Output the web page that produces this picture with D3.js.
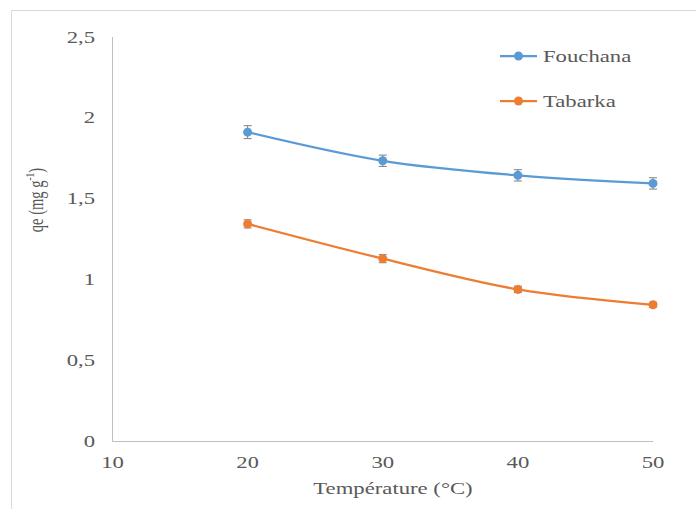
<!DOCTYPE html>
<html><head><meta charset="utf-8">
<script src="https://cdn.jsdelivr.net/npm/d3@7"></script>
<style>body{margin:0;background:#fff}svg{display:block}text{font-family:"Liberation Serif","Times New Roman",serif}</style>
</head><body>
<script>
const temperatures = [20, 30, 40, 50];
const fouchana = [1.912, 1.735, 1.645, 1.595];
const fouchanaErr = [0.04, 0.035, 0.035, 0.035];
const tabarka = [1.345, 1.13, 0.94, 0.845];
const tabarkaErr = [0.025, 0.025, 0.02, 0.015];
const seriesNames = ["Fouchana", "Tabarka"];
const seriesColors = ["#5b9bd5", "#ed7d31"];
const xTicks = [10, 20, 30, 40, 50];
const yTicks = [0, 0.5, 1, 1.5, 2, 2.5];

const W = 696, H = 509;
const SX = 1.42; // horizontal stretch of the reference text
const svg = d3.select("body").append("svg").attr("width", W).attr("height", H);
const textColor = "#595959";

function label(px, py, str, anchor, size) {
  return svg.append("text")
    .attr("transform", `translate(${px},${py}) scale(${SX},1)`)
    .attr("text-anchor", anchor).style("font-size", size + "px")
    .attr("fill", textColor).text(str);
}

// chart area border
svg.append("rect").attr("x", 11.5).attr("y", 10.5).attr("width", W).attr("height", H)
  .attr("fill", "none").attr("stroke", "#d9d9d9").attr("stroke-width", 1);

const x = d3.scaleLinear().domain([10, 50]).range([112.5, 653]);
const y = d3.scaleLinear().domain([0, 2.5]).range([441.5, 37]);

// axes lines
svg.append("line").attr("x1", x(10)).attr("x2", x(50)).attr("y1", y(0)).attr("y2", y(0))
  .attr("stroke", "#bfbfbf").attr("stroke-width", 1);
svg.append("line").attr("x1", x(10)).attr("x2", x(10)).attr("y1", y(0)).attr("y2", y(2.5))
  .attr("stroke", "#bfbfbf").attr("stroke-width", 1);

// tick labels
const fmt = d => String(d).replace(".", ",");
yTicks.forEach(d => label(95, y(d) + 5.5, fmt(d), "end", 16));
xTicks.forEach(d => label(x(d), 468, String(d), "middle", 16));

// axis titles
label(393, 494, "Température (°C)", "middle", 16);
const yt = svg.append("text").attr("transform", `translate(43,200) rotate(-90) scale(1,${SX})`)
  .attr("text-anchor", "middle").style("font-size", "14.5px").attr("fill", textColor);
yt.append("tspan").text("qe (mg g");
yt.append("tspan").style("font-size", "9.5px").attr("dy", -6).text("-1");
yt.append("tspan").attr("dy", 6).text(")");

const series = [
  {name: seriesNames[0], values: fouchana, err: fouchanaErr, color: seriesColors[0]},
  {name: seriesNames[1], values: tabarka, err: tabarkaErr, color: seriesColors[1]}
];

const line = d3.line().x(d => x(d[0])).y(d => y(d[1])).curve(d3.curveCatmullRom.alpha(0.5));

series.forEach((s, si) => {
  const pts = temperatures.map((t, i) => [t, s.values[i], s.err[i]]);
  svg.append("path").datum(pts).attr("d", line).attr("fill", "none")
    .attr("stroke", s.color).attr("stroke-width", 2.25);
  const g = svg.append("g");
  pts.forEach(p => {
    const cx = x(p[0]);
    g.append("line").attr("x1", cx).attr("x2", cx).attr("y1", y(p[1] + p[2])).attr("y2", y(p[1] - p[2]))
      .attr("stroke", "#7f7f7f").attr("stroke-width", 1);
    [p[1] + p[2], p[1] - p[2]].forEach(v => {
      g.append("line").attr("x1", cx - 4).attr("x2", cx + 4).attr("y1", y(v)).attr("y2", y(v))
        .attr("stroke", "#7f7f7f").attr("stroke-width", 1);
    });
  });
  svg.append("g").selectAll("circle").data(pts).join("circle")
    .attr("cx", d => x(d[0])).attr("cy", d => y(d[1])).attr("r", 4.5).attr("fill", s.color);

  // legend
  const ly = 56 + si * 45;
  svg.append("line").attr("x1", 500).attr("x2", 537).attr("y1", ly).attr("y2", ly)
    .attr("stroke", s.color).attr("stroke-width", 2.25);
  svg.append("circle").attr("cx", 518.5).attr("cy", ly).attr("r", 4.5).attr("fill", s.color);
  label(543, ly + 6, s.name, "start", 16);
});
</script>
</body></html>
